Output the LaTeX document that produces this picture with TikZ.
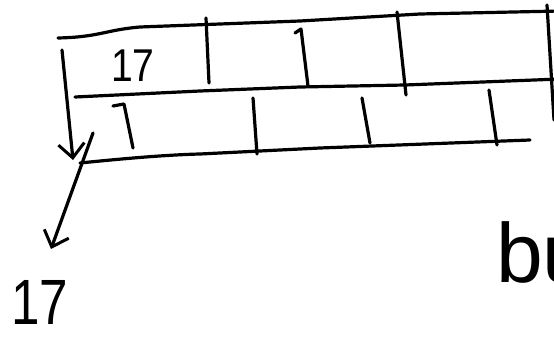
\documentclass[tikz,border=0pt]{standalone}
\usepackage{fontspec}
\setmainfont{Liberation Sans}
\usetikzlibrary{arrows.meta}
\begin{document}
\begin{tikzpicture}[x=1pt,y=-1pt,
  pen/.style={line width=3.2pt, line cap=round, line join=round, black},
  arr/.style={pen, -{Straight Barb[length=14pt,width=26pt,line width=3pt]}},
  lbl/.style={inner sep=0pt, font=\fontsize{46}{46}\selectfont}]
\useasboundingbox (0,0) rectangle (554,337);
\begin{scope}
\clip (0,0) rectangle (554,337);
% top row
\draw[pen] (58,38) .. controls (100,37) and (105,30) .. (140,27) -- (300,21) -- (420,14) -- (560,11);
\draw[pen] (75,97) -- (200,91) -- (300,87) -- (405,85) -- (560,79);
\draw[pen] (80,163) .. controls (110,160) and (160,155) .. (200,154) -- (320,148) -- (530,140);
% top dividers
\draw[pen] (206,18) -- (209,83);
\draw[pen] (295,33) -- (301,29) -- (308,86);
\draw[pen] (397,12) -- (406,95);
\draw[pen] (547,5) -- (554,120);
% bottom dividers
\draw[pen] (113,106) -- (124,104) -- (133,148);
\draw[pen] (253,98) -- (257,154);
\draw[pen] (362,98) -- (370,143);
\draw[pen] (489,90) -- (497,145);
% vertical arrow
\coordinate (vtop) at (62,50);
\coordinate (vbot) at (73,160);
\draw[arr] (vtop) -- (vbot);
% diagonal arrow
\node[lbl] (c17) at (133,66) {\scalebox{0.85}[1]{17}};
\node[inner sep=0pt, font=\fontsize{64}{64}\selectfont] (o17) at (40,302) {\scalebox{0.8}[1]{17}};
\coordinate (dtop) at (93,133);
\coordinate (dbot) at (51,249);
\draw[arr] (dtop) -- (dbot);
\node[inner sep=0pt, anchor=base west, font=\fontsize{84}{84}\selectfont] (bu) at (496,282) {bu};
\end{scope}
\end{tikzpicture}
\end{document}
